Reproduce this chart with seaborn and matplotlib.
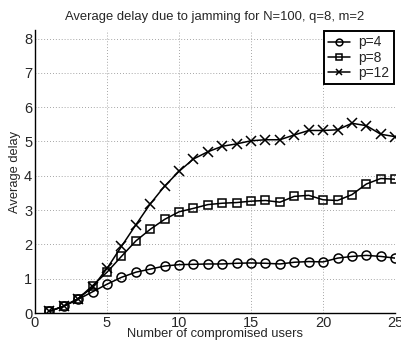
import numpy as np
import pandas as pd
import matplotlib
matplotlib.use("Agg")
import matplotlib.pyplot as plt
import seaborn as sns

# --- data ---
users = list(range(1, 26))
delay_p4 = [0.05, 0.20, 0.40, 0.62, 0.84, 1.04, 1.19, 1.28, 1.37, 1.41,
            1.42, 1.43, 1.43, 1.45, 1.46, 1.45, 1.43, 1.48, 1.50, 1.49,
            1.60, 1.65, 1.68, 1.65, 1.60]
delay_p8 = [0.05, 0.20, 0.42, 0.80, 1.19, 1.65, 2.10, 2.44, 2.73, 2.95,
            3.05, 3.16, 3.20, 3.22, 3.26, 3.28, 3.23, 3.40, 3.43, 3.30,
            3.28, 3.45, 3.76, 3.92, 3.90]
delay_p12 = [0.05, 0.20, 0.42, 0.75, 1.30, 1.94, 2.57, 3.18, 3.70, 4.13,
             4.49, 4.70, 4.86, 4.93, 5.02, 5.05, 5.05, 5.19, 5.32, 5.32,
             5.34, 5.53, 5.46, 5.21, 5.14]
series_names = ["p=4", "p=8", "p=12"]
series_markers = ["o", "s", "x"]

sns.set_style("white")
plt.rcParams["font.family"] = ["Liberation Sans", "DejaVu Sans"]

fig = plt.figure(figsize=(4.02, 3.44), dpi=100)
ax = fig.add_axes([0.087, 0.090, 0.896, 0.823])

for name, values, mk in zip(series_names, [delay_p4, delay_p8, delay_p12], series_markers):
    df = pd.DataFrame({"users": users, "delay": values})
    sns.lineplot(data=df, x="users", y="delay", ax=ax, color="black",
                 marker=mk, markersize=6.5 if mk != "s" else 6,
                 markerfacecolor="none", markeredgecolor="black",
                 markeredgewidth=1.1, linewidth=1.1, label=name)

ax.set_xlim(0, 25)
ax.set_ylim(0, 8.25)
ax.set_xticks([0, 5, 10, 15, 20, 25])
ax.set_yticks(range(0, 9))
ax.grid(True, linestyle=(0, (1, 2.5)), color="#888888", linewidth=0.6)
ax.tick_params(direction="in", length=3, labelsize=10.5, pad=2, color="black")
for side in ["top", "right"]:
    ax.spines[side].set_visible(False)
for side in ["left", "bottom"]:
    ax.spines[side].set_color("black")
    ax.spines[side].set_linewidth(1.0)

ax.set_title("Average delay due to jamming for N=100, q=8, m=2", fontsize=9.4, pad=7)
ax.set_xlabel("Number of compromised users", fontsize=9.3, labelpad=-1)
ax.set_ylabel("Average delay", fontsize=9.3, labelpad=2)

leg = ax.legend(loc="upper right", fontsize=10, frameon=True, fancybox=False,
                handlelength=1.6, handletextpad=0.6, borderpad=0.3,
                labelspacing=0.1, borderaxespad=0.1, markerscale=0.75)
leg.get_frame().set_edgecolor("black")
leg.get_frame().set_linewidth(1.4)
leg.get_frame().set_alpha(1)

fig.savefig("out.png", dpi=100)
